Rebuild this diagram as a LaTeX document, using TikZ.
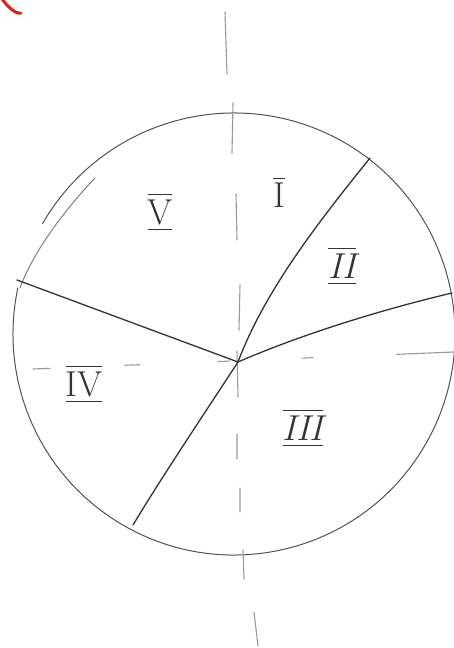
\documentclass[tikz,border=0pt]{standalone}
\usepackage{amsmath, amssymb}
\usepackage{xcolor}
\usetikzlibrary{calc, positioning}

\definecolor{pencil}{gray}{0.2}
\definecolor{pencillight}{gray}{0.5}
\definecolor{markred}{RGB}{228,30,30}

% chữ số La Mã có gạch trên (và gạch dưới)
\newcommand{\barnum}[1]{$\overline{\hbox{#1}}$}
\newcommand{\boxnum}[1]{$\overline{\underline{\hbox{#1}}}$}

\tikzset{
    sector/.style={draw=pencil, line width=1.3pt, line cap=round},
    rim/.style={draw=pencillight, line width=1pt, line cap=round},
    axisline/.style={draw=pencillight!80, line width=1.1pt, line cap=round},
    numeral/.style={text=pencil, font=\fontsize{36}{36}\selectfont, inner sep=0pt}
}

\begin{document}
\begin{tikzpicture}[x=1pt, y=-1pt]

    \useasboundingbox (0,0) rectangle (454,648);

    % =================================================================
    % 1. DẤU ĐỎ GÓC TRÊN
    % =================================================================
    \draw[markred, line width=3pt, line cap=round] (0,-4) .. controls (8,8) and (16,14) .. (21,13);

    % =================================================================
    % 2. ĐƯỜNG TRÒN VÀ TÂM
    % (bán kính tính bằng pt nên góc đo theo chiều y hướng lên)
    % =================================================================
    \coordinate (O) at (238,362);
    \coordinate (C) at (234,334);
    \draw[rim, draw=pencil!85] (C) ++(150:221pt) arc (150:-192:221pt);
    \draw[rim] (95,178) .. controls (60,215) and (32,255) .. (20,288);

    % =================================================================
    % 3. CÁC TRỤC NÉT ĐỨT
    % =================================================================
    \draw[axisline]
        (225,12) -- (227,74)  (233,103) -- (232,153)
        (236,194) -- (237,240) (240,285) -- (239,330)
        (237,351) -- (238,397) (237,434) -- (237,459)
        (240,488) -- (240,512) (243,550) -- (244,579)
        (254,612) -- (258,646);
    \coordinate (hleft) at (33,369);
    \coordinate (hright) at (454,352);
    \draw[axisline, dash pattern=on 17pt off 75pt on 15pt off 78pt on 12pt off 72pt on 11pt off 84pt on 60pt off 100pt]
        (hleft) -- (hright);

    % =================================================================
    % 4. CÁC BÁN KÍNH CHIA HÌNH QUẠT
    % =================================================================
    \coordinate (rA) at (370,158);
    \coordinate (rB) at (452,293);
    \coordinate (rC) at (17,280);
    \coordinate (rD) at (133,525);
    \draw[sector] (O) .. controls (265,290) and (320,220) .. (rA);
    \draw[sector] (O) .. controls (300,335) and (380,310) .. (rB);
    \draw[sector] (O) -- (rC);
    \draw[sector] (O) .. controls (200,420) and (160,480) .. (rD);

    % =================================================================
    % 5. NHÃN CÁC PHẦN
    % =================================================================
    \node[numeral] (p1) at (279,192) {\barnum{I}};
    \node[numeral] (p2) at (342,266) {\boxnum{\itshape II}};
    \node[numeral] (p3) at (303,428) {\boxnum{\itshape III}};
    \node[numeral] (p4) at (84,384) {\boxnum{IV}};
    \node[numeral] (p5) at (160,212) {\boxnum{V}};

\end{tikzpicture}
\end{document}
